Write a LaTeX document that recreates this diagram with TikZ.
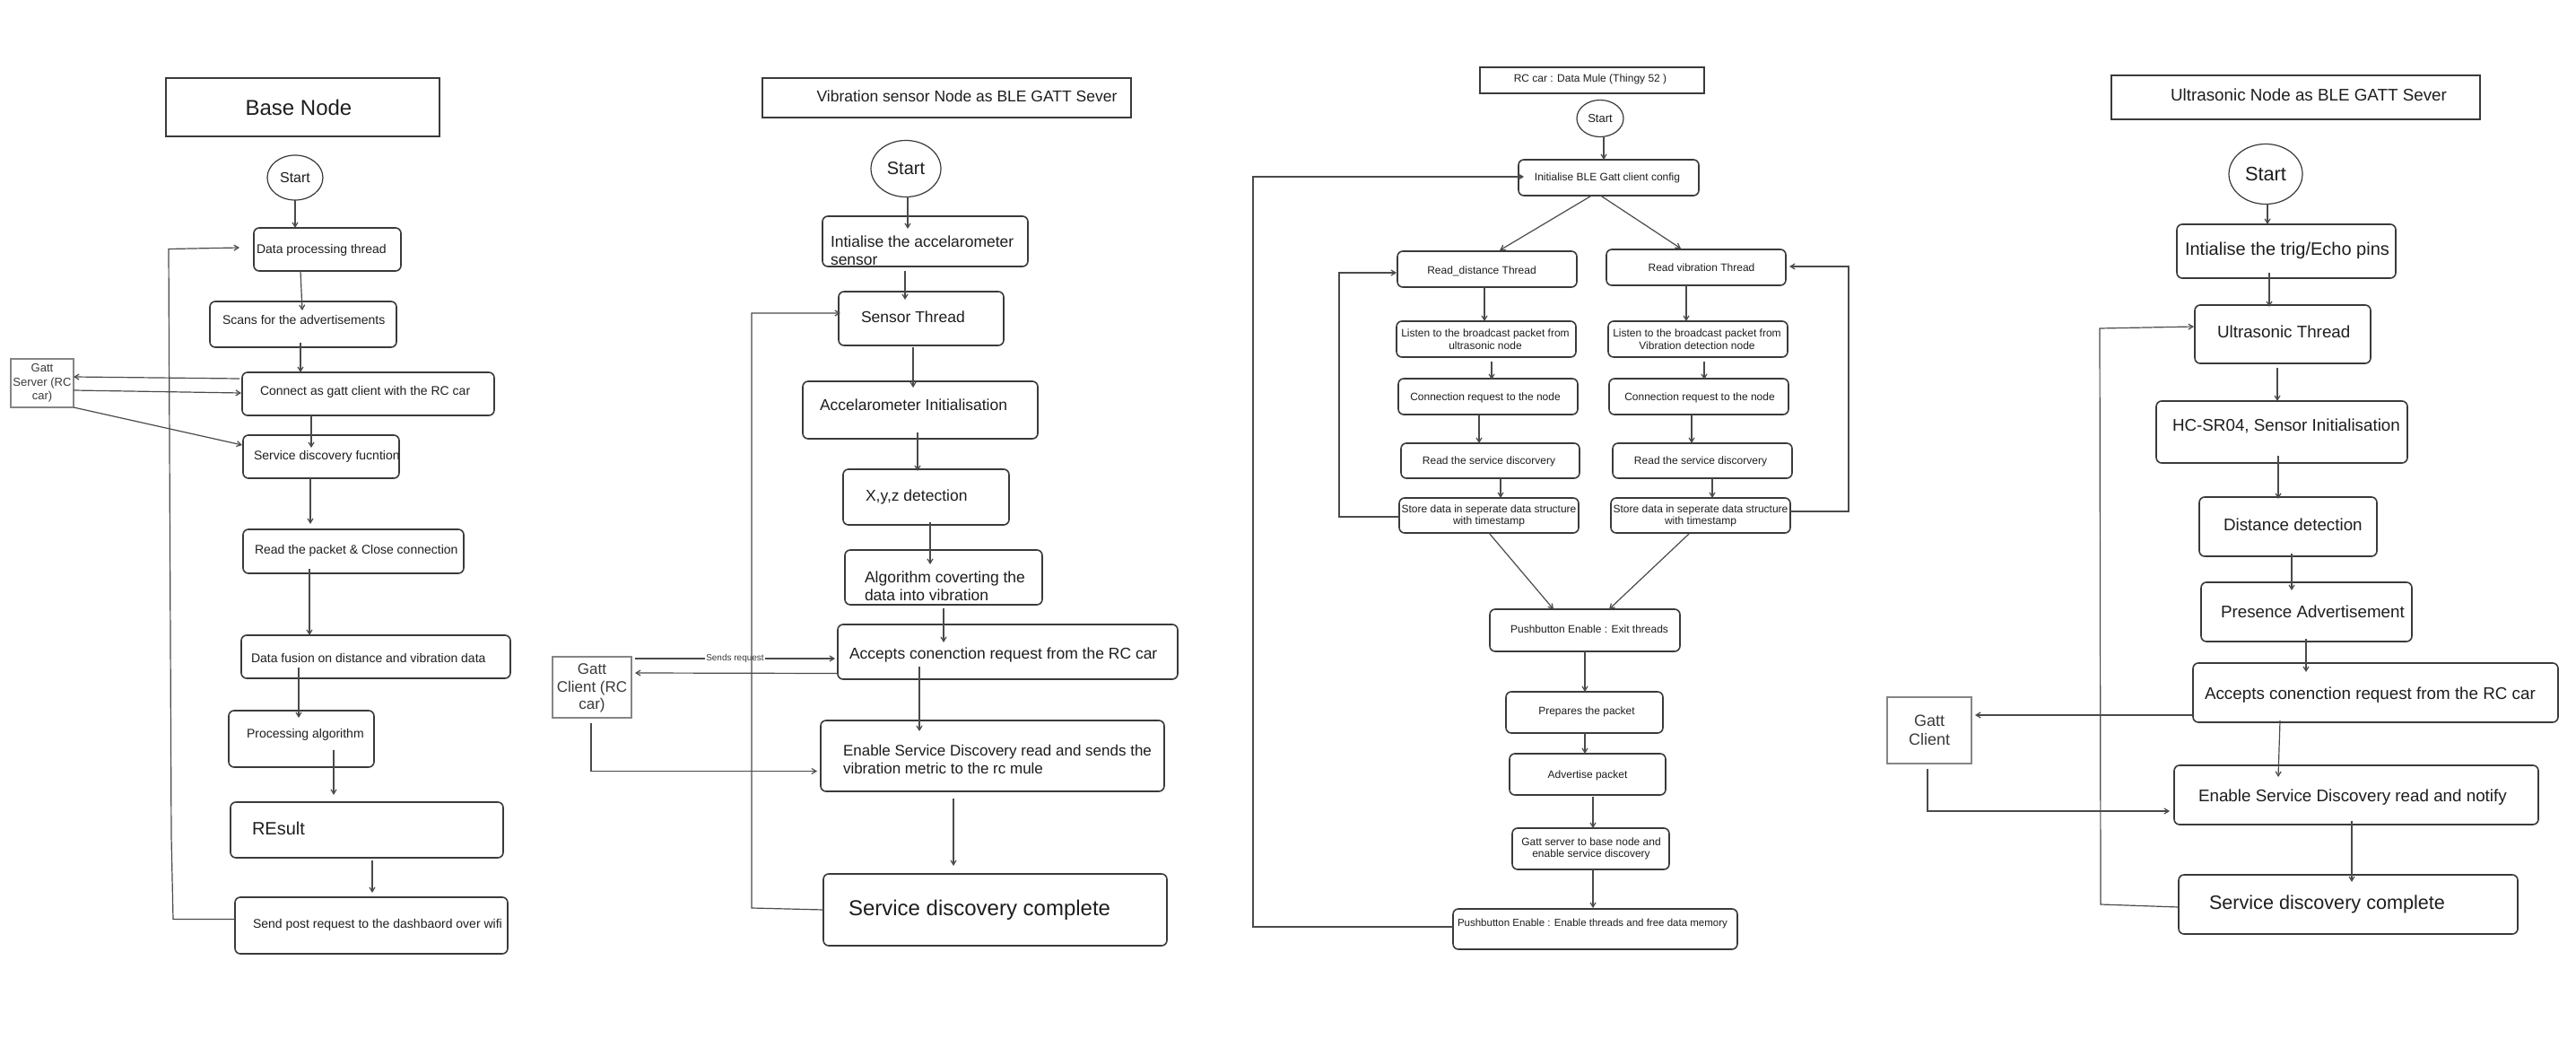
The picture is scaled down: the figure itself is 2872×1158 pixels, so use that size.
\documentclass[tikz,border=0pt]{standalone}
\usepackage{fontspec}
\setmainfont{Liberation Sans}
\usetikzlibrary{arrows.meta,calc,shapes.geometric}

\definecolor{ink}{HTML}{1E1E1E}
\definecolor{edge}{HTML}{3A3A3A}
\definecolor{wire}{HTML}{4A4A4A}
\definecolor{soft}{HTML}{858585}
\definecolor{softink}{HTML}{3A3A3A}

\tikzset{
  box/.style={draw=edge, line width=1.6pt, rounded corners=6pt, inner sep=0pt, outer sep=0pt},
  head/.style={draw=edge, line width=1.6pt, inner sep=0pt, outer sep=0pt},
  peer/.style={draw=soft, line width=1.8pt, inner sep=0pt, outer sep=0pt},
  oval/.style={draw=edge, line width=1.2pt, ellipse, inner sep=0pt, outer sep=0pt, text=ink},
  arr/.style={draw=wire, line width=1.2pt, -{Straight Barb[length=5pt,width=6pt]}},
  txt/.style={text=ink, inner sep=0pt, outer sep=0pt},
  fB/.style={font=\fontsize{14}{17}\selectfont},
  fV/.style={font=\fontsize{17.5}{20}\selectfont},
  fR/.style={font=\fontsize{12}{13.5}\selectfont},
  fU/.style={font=\fontsize{18.8}{21}\selectfont},
}
% box from its corner coordinates (x1,y1) to (x2,y2)
\newcommand{\mkbox}[6][box]{\node[#1, minimum width={#5-#3}, minimum height={#6-#4}] (#2) at ({(#3+#5)/2},{(#4+#6)/2}) {};}

\begin{document}
\begin{tikzpicture}[x=1pt,y=-1pt]
\useasboundingbox[fill=white] (0,0) rectangle (2872,1158);

% ---------------- Base node ----------------
\mkbox[head]{b_title}{185}{87}{490}{152}
\node[txt,font=\fontsize{24}{28}\selectfont] (b_tt) at (333,120) {Base Node};
\node[oval, minimum width=62, minimum height=50, font=\fontsize{16}{18}\selectfont] (b_st) at (329,198) {Start};
\mkbox{b_dp}{283}{254}{447}{302}
\node[txt,fB,anchor=west] (b_dpt) at (286,279) {Data processing thread};
\mkbox{b_sc}{234}{336}{442}{387}
\node[txt,fB,anchor=west] (b_sct) at (248,356) {Scans for the advertisements};
\mkbox{b_cn}{270}{415}{551}{463}
\node[txt,fB,anchor=west] (b_cnt) at (290,437) {Connect as gatt client with the RC car};
\mkbox[peer]{b_gs}{12}{400}{82}{454}
\node[txt,text=softink,align=center,font=\fontsize{13}{15.5}\selectfont] (b_gst) at (47,427) {Gatt\\Server (RC\\car)};
\mkbox{b_sd}{271}{485}{445}{533}
\node[txt,fB,anchor=west] (b_sdt) at (283,509) {Service discovery fucntion};
\mkbox{b_rp}{271}{590}{517}{639}
\node[txt,fB,anchor=west] (b_rpt) at (284,614) {Read the packet \& Close connection};
\mkbox{b_df}{269}{708}{569}{756}
\node[txt,fB,anchor=west] (b_dft) at (280,733) {Data fusion on distance and vibration data};
\mkbox{b_pa}{255}{792}{417}{855}
\node[txt,fB,anchor=west] (b_pat) at (275,819) {Processing algorithm};
\mkbox{b_rs}{257}{894}{561}{956}
\node[txt,font=\fontsize{20}{24}\selectfont,anchor=west] (b_rst) at (281,923) {REsult};
\mkbox{b_sp}{262}{1000}{566}{1063}
\node[txt,fB,anchor=west] (b_spt) at (282,1031) {Send post request to the dashbaord over wifi};

\draw[arr] (b_st.south) -- (b_st.south |- b_dp.north);
\draw[arr] (b_dp.south -| 335,0) -- ($(b_sc.north -| 337,0)+(0,10)$);
\draw[arr] ($(b_sc.south -| 335,0)+(0,-5)$) -- (b_cn.north -| 335,0);
\draw[arr] ($(b_cn.west)+(-3,-17)$) -- ($(b_gs.east)+(0,-7)$);
\draw[arr] ($(b_gs.east)+(0,8)$) -- ($(b_cn.west)+(-1,-1)$);
\draw[arr] (b_gs.south east) -- ($(b_sd.west)+(-1,-13)$);
\draw[arr] (b_cn.south -| 347,0) -- ($(b_sd.north -| 347,0)+(0,14)$);
\draw[arr] (b_sd.south -| 346,0) -- ($(b_rp.north -| 346,0)+(0,-6)$);
\draw[arr] ($(b_rp.south -| 345,0)+(0,-5)$) -- (b_df.north -| 345,0);
\draw[arr] ($(b_df.south -| 333,0)+(0,-12)$) -- ($(b_pa.north -| 333,0)+(0,8)$);
\draw[arr] ($(b_pa.south -| 372,0)+(0,-19)$) -- ($(b_rs.north -| 372,0)+(0,-8)$);
\draw[arr] ($(b_rs.south -| 415,0)+(0,3)$) -- ($(b_sp.north -| 415,0)+(0,-5)$);
\draw[arr] ($(b_sp.west)+(0,-7)$) -- ++(-69,0) -- ++(-2,-93) -- ++(-3,-654) -- ($(b_dp.west)+(-16,-2)$);

% ---------------- Vibration sensor node ----------------
\mkbox[head]{v_title}{850}{87}{1261}{131}
\node[txt,fV] (v_tt) at (1078,107) {Vibration sensor Node as BLE GATT Sever};
\node[oval, minimum width=78, minimum height=63, font=\fontsize{20}{24}\selectfont] (v_st) at (1010,188) {Start};
\mkbox{v_ia}{917}{241}{1146}{297}
\node[txt,fV,anchor=west,align=left] (v_iat) at (926,279) {Intialise the accelarometer\\sensor};
\mkbox{v_sth}{935}{325}{1119}{385}
\node[txt,fV,anchor=west] (v_stht) at (960,353) {Sensor Thread};
\mkbox{v_ai}{895}{425}{1157}{489}
\node[txt,fV,anchor=west] (v_ait) at (914,451) {Accelarometer Initialisation};
\mkbox{v_xyz}{940}{523}{1125}{585}
\node[txt,fV,anchor=west] (v_xyzt) at (965,554) {X,y,z detection};
\mkbox{v_alg}{942}{613}{1162}{674}
\node[txt,fV,anchor=west,align=left] (v_algt) at (964,653) {Algorithm coverting the\\data into vibration};
\mkbox{v_acc}{934}{696}{1313}{757}
\node[txt,fV,anchor=west] (v_acct) at (947,730) {Accepts conenction request from the RC car};
\mkbox[peer]{v_gc}{616}{732}{704}{800}
\node[txt,text=softink,align=center,font=\fontsize{17}{19.5}\selectfont] (v_gct) at (660,767) {Gatt\\Client (RC\\car)};
\mkbox{v_en}{915}{803}{1298}{882}
\node[txt,anchor=west,align=left,font=\fontsize{17}{20}\selectfont] (v_ent) at (940,846) {Enable Service Discovery read and sends the\\vibration metric to the rc mule};
\mkbox{v_sdc}{918}{974}{1301}{1054}
\node[txt,anchor=west,font=\fontsize{24}{28}\selectfont] (v_sdct) at (946,1014) {Service discovery complete};

\draw[arr] (v_st.south -| 1012,0) -- ($(v_ia.north -| 1012,0)+(0,14)$);
\draw[arr] ($(v_ia.south -| 1009,0)+(0,5)$) -- ($(v_sth.north -| 1009,0)+(0,9)$);
\draw[arr] ($(v_sth.south -| 1018,0)+(0,2)$) -- ($(v_ai.north -| 1018,0)+(0,7)$);
\draw[arr] ($(v_ai.south -| 1023,0)+(0,-7)$) -- ($(v_xyz.north -| 1023,0)+(0,2)$);
\draw[arr] ($(v_xyz.south -| 1037,0)+(0,-3)$) -- ($(v_alg.north -| 1037,0)+(0,16)$);
\draw[arr] ($(v_alg.south -| 1052,0)+(0,4)$) -- ($(v_acc.north -| 1052,0)+(0,20)$);
\draw[arr] ($(v_acc.south -| 1025,0)+(0,-14)$) -- ($(v_en.north -| 1025,0)+(0,12)$);
\draw[arr] ($(v_en.south -| 1063,0)+(0,8)$) -- ($(v_sdc.north -| 1063,0)+(0,-9)$);
\draw[arr] ($(v_gc.north east)+(4,2)$) -- node[midway, fill=white, inner sep=1pt, text=softink, font=\fontsize{10}{12}\selectfont] (v_req) {Sends request} ($(v_acc.west)+(-3,7.5)$);
\draw[arr] ($(v_acc.west)+(0,24)$) -- ($(v_gc.east)+(4,-16)$);
\draw[arr] ($(v_gc.south)+(-1,6)$) |- ($(v_en.west)+(-4,17)$);
\draw[arr] (v_sdc.west) -- ++(-80,-2) |- ($(v_sth.west)+(2,-6)$);

% ---------------- RC car : data mule ----------------
\mkbox[head]{r_title}{1650}{75}{1900}{104}
\node[txt,fR] (r_tt) at (1773,88) {RC car : Data Mule (Thingy 52 )};
\node[oval, minimum width=52, minimum height=41, font=\fontsize{13}{15}\selectfont] (r_st) at (1784,132) {Start};
\mkbox{r_ini}{1693}{178}{1894}{218}
\node[txt,fR] (r_init) at (1792,198) {Initialise BLE Gatt client config};
\mkbox{r_rd}{1558}{280}{1758}{320}
\node[txt,fR] (r_rdt) at (1652,302) {Read\_distance Thread};
\mkbox{r_rv}{1791}{278}{1991}{318}
\node[txt,fR] (r_rvt) at (1897,298) {Read vibration Thread};
\mkbox{r_ll}{1557}{358}{1757}{398}
\node[txt,fR,align=center] (r_llt) at (1656,378) {Listen to the broadcast packet from\\ultrasonic node};
\mkbox{r_lr}{1793}{358}{1993}{398}
\node[txt,fR,align=center] (r_lrt) at (1892,378) {Listen to the broadcast packet from\\Vibration detection node};
\mkbox{r_cl}{1559}{422}{1759}{462}
\node[txt,fR] (r_clt) at (1656,443) {Connection request to the node};
\mkbox{r_cr}{1794}{422}{1994}{462}
\node[txt,fR] (r_crt) at (1895,443) {Connection request to the node};
\mkbox{r_sl}{1562}{494}{1761}{533}
\node[txt,fR] (r_slt) at (1660,514) {Read the service discorvery};
\mkbox{r_sr}{1798}{494}{1998}{533}
\node[txt,fR] (r_srt) at (1896,514) {Read the service discorvery};
\mkbox{r_dl}{1560}{555}{1760}{594}
\node[txt,fR,align=center] (r_dlt) at (1660,575) {Store data in seperate data structure\\with timestamp};
\mkbox{r_dr}{1796}{555}{1996}{594}
\node[txt,fR,align=center] (r_drt) at (1896,575) {Store data in seperate data structure\\with timestamp};
\mkbox{r_pe}{1661}{679}{1873}{726}
\node[txt,fR] (r_pet) at (1772,701) {Pushbutton Enable : Exit threads};
\mkbox{r_pp}{1679}{771}{1854}{817}
\node[txt,fR] (r_ppt) at (1769,793) {Prepares the packet};
\mkbox{r_ad}{1683}{840}{1857}{886}
\node[txt,fR] (r_adt) at (1770,864) {Advertise packet};
\mkbox{r_gs}{1686}{923}{1861}{969}
\node[txt,fR,align=center] (r_gst) at (1774,946) {Gatt server to base node and\\enable service discovery};
\mkbox{r_pt}{1620}{1013}{1937}{1058}
\node[txt,anchor=west,font=\fontsize{11.5}{13}\selectfont] (r_ptt) at (1625,1030) {Pushbutton Enable : Enable threads and free data memory};

\draw[arr] (r_st.south -| 1788,0) -- (r_ini.north -| 1788,0);
\draw[arr] ($(r_ini.south)+(-19,0)$) -- ($(r_rd.north)+(14,-1)$);
\draw[arr] ($(r_ini.south)+(-9,0)$) -- ($(r_rv.north)+(-17,-1)$);
\draw[arr] (r_rd.south -| 1655,0) -- (r_ll.north -| 1655,0);
\draw[arr] (r_rv.south -| 1880,0) -- (r_lr.north -| 1880,0);
\draw[arr] ($(r_ll.south -| 1663,0)+(0,5)$) -- ($(r_cl.north -| 1663,0)+(0,1)$);
\draw[arr] ($(r_lr.south -| 1900,0)+(0,5)$) -- ($(r_cr.north -| 1900,0)+(0,1)$);
\draw[arr] ($(r_cl.south -| 1649,0)+(0,1)$) -- (r_sl.north -| 1649,0);
\draw[arr] ($(r_cr.south -| 1886,0)+(0,1)$) -- (r_sr.north -| 1886,0);
\draw[arr] (r_sl.south -| 1673,0) -- (r_dl.north -| 1673,0);
\draw[arr] (r_sr.south -| 1909,0) -- (r_dr.north -| 1909,0);
\draw[arr] (r_dl.south) -- ($(r_pe.north)+(-35,0)$);
\draw[arr] ($(r_dr.south)+(-13,1)$) -- ($(r_pe.north)+(27,0)$);
\draw[arr] (r_pe.south -| 1767,0) -- (r_pp.north -| 1767,0);
\draw[arr] (r_pp.south -| 1767,0) -- (r_ad.north -| 1767,0);
\draw[arr] ($(r_ad.south -| 1776,0)+(0,2)$) -- (r_gs.north -| 1776,0);
\draw[arr] (r_gs.south -| 1776,0) -- ($(r_pt.north -| 1776,0)+(0,-1)$);
\draw[arr] ($(r_dl.west)+(0,1.5)$) -- ++(-67,0) |- ($(r_rd.west)+(-1,4)$);
\draw[arr] ($(r_dr.east)+(0,-4.5)$) -- ++(65,0) |- ($(r_rv.east)+(4,-1)$);
\draw[arr] ($(r_pt.west)+(0,-2.5)$) -- ++(-223,0) |- ($(r_ini.west)+(6,-1)$);

% ---------------- Ultrasonic node ----------------
\mkbox[head]{u_title}{2354}{84}{2765}{133}
\node[txt,fU] (u_tt) at (2574,106) {Ultrasonic Node as BLE GATT Sever};
\node[oval, minimum width=82, minimum height=67, font=\fontsize{21.8}{26}\selectfont] (u_st) at (2526,194) {Start};
\mkbox{u_it}{2427}{250}{2671}{310}
\node[txt,anchor=west,font=\fontsize{20}{24}\selectfont] (u_itt) at (2436,279) {Intialise the trig/Echo pins};
\mkbox{u_th}{2447}{340}{2643}{405}
\node[txt,fU,anchor=west] (u_tht) at (2472,370) {Ultrasonic Thread};
\mkbox{u_hc}{2404}{447}{2684}{516}
\node[txt,fU,anchor=west] (u_hct) at (2422,475) {HC-SR04, Sensor Initialisation};
\mkbox{u_dd}{2452}{554}{2650}{620}
\node[txt,fU,anchor=west] (u_ddt) at (2479,585) {Distance detection};
\mkbox{u_pa}{2454}{649}{2689}{715}
\node[txt,fU,anchor=west] (u_pat) at (2476,682) {Presence Advertisement};
\mkbox{u_ac}{2445}{739}{2852}{805}
\node[txt,fU,anchor=west] (u_act) at (2458,775) {Accepts conenction request from the RC car};
\mkbox[peer]{u_gc}{2104}{777}{2198}{851}
\node[txt,text=softink,align=center,font=\fontsize{18}{21}\selectfont] (u_gct) at (2151,814) {Gatt\\Client};
\mkbox{u_en}{2424}{853}{2830}{919}
\node[txt,fU,anchor=west] (u_ent) at (2451,889) {Enable Service Discovery read and notify};
\mkbox{u_sdc}{2429}{975}{2807}{1041}
\node[txt,anchor=west,font=\fontsize{21.6}{26}\selectfont] (u_sdct) at (2463,1008) {Service discovery complete};

\draw[arr] (u_st.south -| 2528,0) -- (u_it.north -| 2528,0);
\draw[arr] ($(u_it.south -| 2530,0)+(0,-6)$) -- ($(u_th.north -| 2530,0)+(0,2)$);
\draw[arr] ($(u_th.south -| 2539,0)+(0,5)$) -- (u_hc.north -| 2539,0);
\draw[arr] ($(u_hc.south -| 2540,0)+(0,-8)$) -- ($(u_dd.north -| 2540,0)+(0,2)$);
\draw[arr] ($(u_dd.south -| 2555,0)+(0,-3)$) -- ($(u_pa.north -| 2555,0)+(0,9)$);
\draw[arr] ($(u_pa.south -| 2571,0)+(0,-3)$) -- ($(u_ac.north -| 2571,0)+(0,10)$);
\draw[arr] ($(u_ac.south -| 2542,0)+(0,-2)$) -- ($(u_en.north -| 2540,0)+(0,13)$);
\draw[arr] ($(u_en.south -| 2622,0)+(0,-4)$) -- ($(u_sdc.north -| 2622,0)+(0,8)$);
\draw[arr] ($(u_ac.west)+(0,25)$) -- ($(u_gc.east)+(4,-17)$);
\draw[arr] ($(u_gc.south)+(-2,6)$) |- ($(u_en.west)+(-5,18)$);
\draw[arr] ($(u_sdc.west)+(0,3)$) -- ++(-87,-3) -- ++(-1,-642) -- ($(u_th.west)+(-1,-8.5)$);

\end{tikzpicture}
\end{document}
